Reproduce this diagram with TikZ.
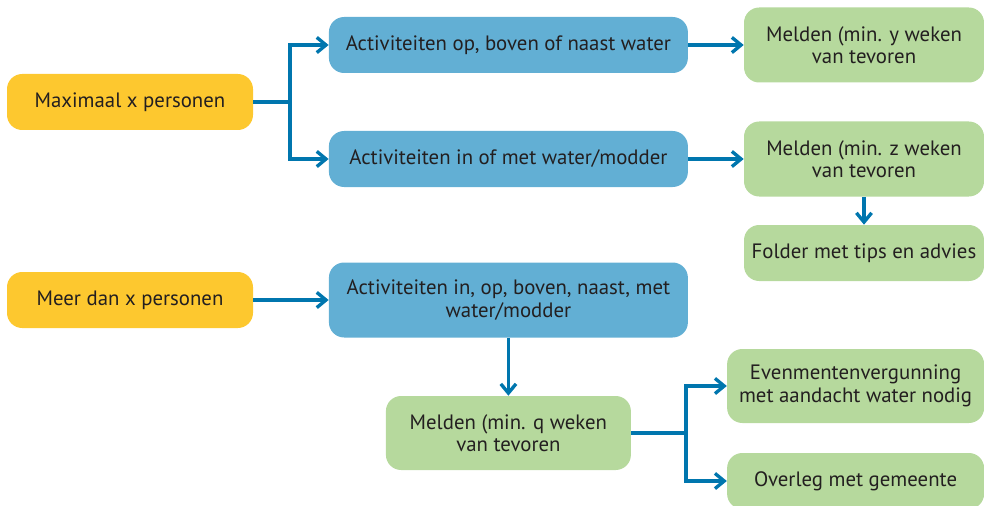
\documentclass[tikz,border=0pt]{standalone}
\usepackage{fontspec}
\setmainfont{PT Sans}
\usetikzlibrary{arrows.meta}
\definecolor{geel}{RGB}{253,200,47}
\definecolor{blauw}{RGB}{98,175,212}
\definecolor{groen}{RGB}{182,217,157}
\definecolor{pijl}{RGB}{0,118,174}
\definecolor{tekst}{RGB}{35,31,32}

\begin{document}
\begin{tikzpicture}[
		box/.style={rounded corners=0.38cm,align=center,text=tekst,inner sep=0pt,
			font=\fontsize{14.8}{16}\selectfont},
		geelbox/.style={box,fill=geel,minimum width=6.15cm,minimum height=1.4cm},
		blauwbox/.style={box,fill=blauw,minimum width=8.975cm,minimum height=1.4cm},
		groenbox/.style={box,fill=groen,minimum width=6cm,minimum height=1.875cm},
		lijn/.style={draw=pijl,line width=2.4pt},
		pijlen/.style={lijn,-{Straight Barb[length=2.3mm,width=3.8mm]}}
	]
	\useasboundingbox (0,0) rectangle (24.6,-12.65);
	% left column
	\node[geelbox] (max) at (3.25,-2.55) {Maximaal x personen};
	\node[geelbox] (meer) at (3.25,-7.5) {Meer dan x personen};
	% activities
	\node[blauwbox] (opwater) at (12.71,-1.125) {Activiteiten op, boven of naast water};
	\node[blauwbox] (inwater) at (12.71,-3.975) {Activiteiten in of met water/modder};
	\node[blauwbox,minimum height=1.875cm] (alles) at (12.71,-7.5)
		{Activiteiten in, op, boven, naast, met\\water/modder};
	% notifications
	\node[groenbox] (meldy) at (21.6,-1.125) {Melden (min. y weken\\van tevoren};
	\node[groenbox] (meldz) at (21.6,-3.975) {Melden (min. z weken\\van tevoren};
	\node[groenbox,minimum height=1.4cm] (folder) at (21.6,-6.325) {Folder met tips en advies};
	\node[groenbox,minimum width=6.125cm,minimum height=1.85cm] (meldq) at (12.71,-10.825)
		{Melden (min. q weken\\van tevoren};
	\node[groenbox,minimum width=6.425cm,minimum height=1.85cm] (vergunning) at (21.39,-9.65)
		{Evenmentenvergunning\\met aandacht water nodig};
	\node[groenbox,minimum width=6.425cm,minimum height=1.4cm] (overleg) at (21.39,-12.025)
		{Overleg met gemeente};
	% split points
	\coordinate (s1) at (7.25,-2.55);
	\coordinate (s2) at (17.15,-10.825);
	% connectors
	\draw[lijn] (max.east) -- (s1);
	\draw[pijlen] (s1) |- (opwater.west);
	\draw[pijlen] (s1) |- (inwater.west);
	\draw[pijlen] (opwater.east) -- (meldy.west);
	\draw[pijlen] (inwater.east) -- (meldz.west);
	\draw[pijlen] (meldz.south) -- (folder.north);
	\draw[pijlen] (meer.east) -- (alles.west);
	\draw[pijlen] (alles.south) -- (meldq.north);
	\draw[lijn] (meldq.east) -- (s2);
	\draw[pijlen] (s2) |- (vergunning.west);
	\draw[pijlen] (s2) |- (overleg.west);
\end{tikzpicture}
\end{document}
